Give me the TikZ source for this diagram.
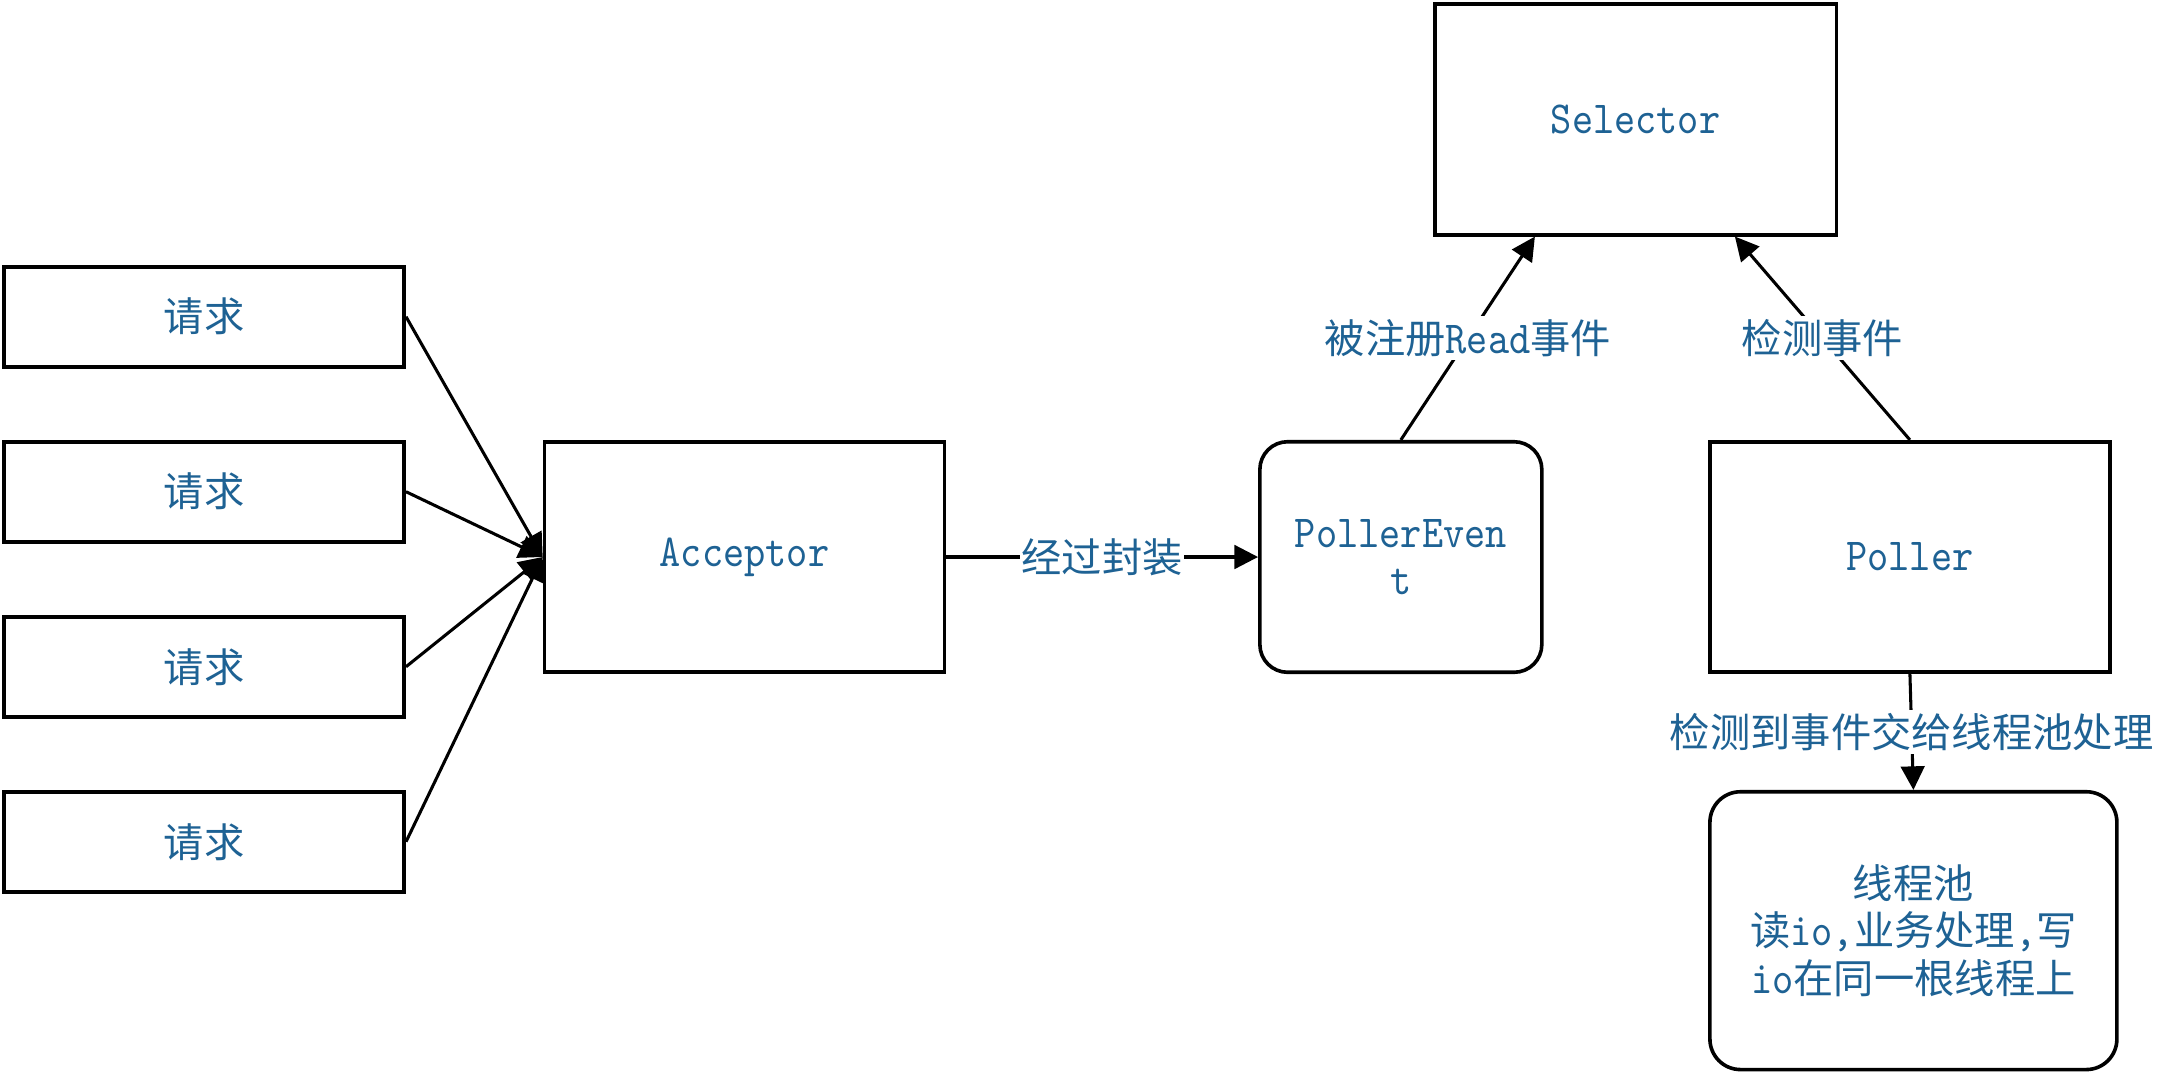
\documentclass[tikz,border=0pt]{standalone}
\usepackage{fontspec}
\newfontfamily\cjk{Noto Sans CJK SC}
\newfontfamily\lat[FakeStretch=0.88,Extension=.otf]{lmmono10-regular}
\newcommand\zh[1]{{\cjk\fontsize{29}{34}\selectfont #1}}
\usetikzlibrary{arrows.meta}
\definecolor{txt}{RGB}{30,98,148}
\tikzset{
  box/.style={draw, line width=2.6pt, inner sep=0pt, text=txt, align=center,
    font=\lat\fontsize{33}{34}\selectfont},
  reqbox/.style={box, minimum width=288pt, minimum height=72pt},
  bigbox/.style={box, minimum width=288pt, minimum height=166pt},
  lbl/.style={fill=white, text=txt, inner xsep=1pt, inner ysep=2.5pt,
    font=\lat\fontsize{33}{34}\selectfont},
  arr/.style={line width=2.2pt, -{Triangle[length=17pt,width=17pt]}}
}
\begin{document}
\begin{tikzpicture}[x=1pt,y=-1pt]
\useasboundingbox[fill=white] (0,0) rectangle (1568,774);
% request boxes
\node[reqbox] (r1) at (147,228) {\zh{请求}};
\node[reqbox] (r2) at (147,354) {\zh{请求}};
\node[reqbox] (r3) at (147,480) {\zh{请求}};
\node[reqbox] (r4) at (147,606) {\zh{请求}};
% main boxes
\node[bigbox] (acc) at (536,401) {Acceptor};
\node[box, minimum width=203pt, minimum height=166pt, rounded corners=20pt] (pe) at (1008.5,401) {PollerEven\\t};
\node[bigbox, minimum width=289pt] (sel) at (1177.5,86) {Selector};
\node[bigbox] (pol) at (1375,401) {Poller};
\node[box, minimum width=293pt, minimum height=200pt, rounded corners=22pt] (pool) at (1377.5,670)
  {\zh{线程池}\\\zh{读}io,\zh{业务处理},\zh{写}\\io\zh{在同一根线程上}};
% connectors
\draw[arr] (r1.east) -- (acc.west);
\draw[arr] (r2.east) -- (acc.west);
\draw[arr] (r3.east) -- (acc.west);
\draw[arr] (r4.east) -- (acc.west);
\draw[arr] (acc.east) -- node[lbl] {\zh{经过封装}} (pe.west);
\draw[arr] (pe.north) -- node[lbl] {\zh{被注册}Read\zh{事件}} ([xshift=-72.5pt]sel.south);
\draw[arr] (pol.north) -- node[lbl] {\zh{检测事件}} ([xshift=71.5pt]sel.south);
\draw[arr] (pol.south) -- node[lbl] {\zh{检测到事件交给线程池处理}} (pool.north);
\end{tikzpicture}
\end{document}
